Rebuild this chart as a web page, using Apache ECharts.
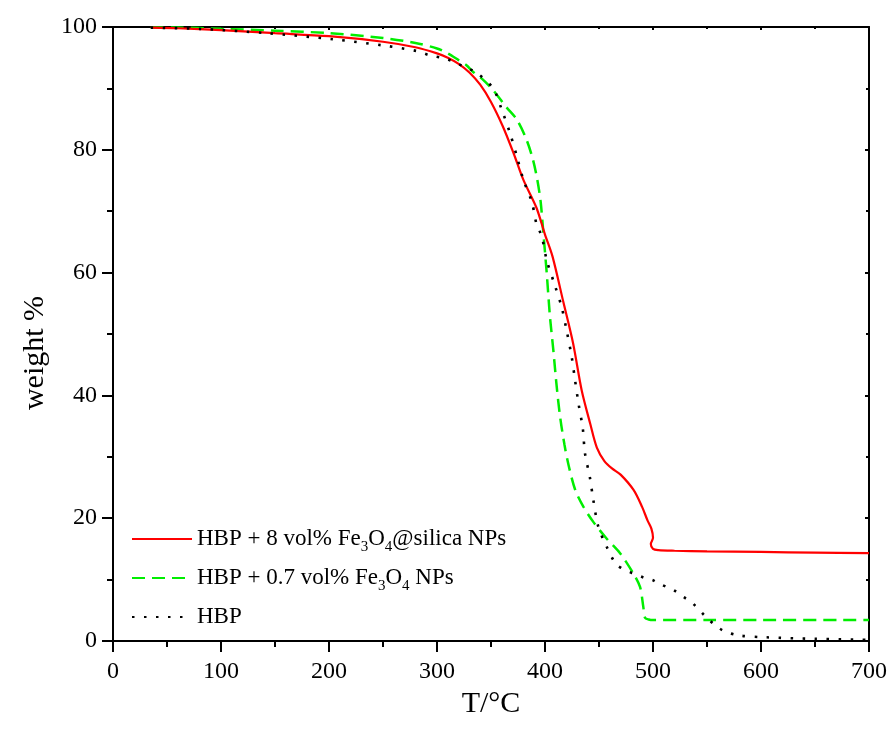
<!DOCTYPE html>
<html>
<head>
<meta charset="utf-8">
<script src="https://cdn.jsdelivr.net/npm/echarts@6/dist/echarts.min.js"></script>
<style>html,body{margin:0;padding:0;background:#fff}#c{width:891px;height:733px}</style>
</head>
<body>
<div id="c"></div>
<script>
// Temperature (°C) and weight (%)
var redT = [35, 60, 100, 150, 200, 250, 280, 300, 310, 320, 330, 340, 350, 361, 371, 380, 392, 400, 407, 417, 426, 434, 442, 448, 455, 462, 470, 482, 490, 495, 498.5, 500, 498, 500, 505, 520, 550, 600, 650, 700];
var redW = [99.9, 99.8, 99.5, 99.0, 98.5, 97.6, 96.7, 95.7, 95.0, 94.0, 92.6, 90.6, 87.8, 83.8, 79.4, 75.1, 70.6, 66.2, 62.6, 55.2, 48.5, 40.8, 35.3, 31.5, 29.3, 28.1, 27.1, 24.6, 21.8, 19.6, 18.3, 16.8, 15.8, 15.0, 14.8, 14.7, 14.6, 14.5, 14.4, 14.3];

var greenT = [35, 60, 100, 150, 200, 250, 280, 300, 310, 320, 327, 334, 342, 352, 364, 374, 383, 389, 393, 396, 398.5, 401.6, 404.6, 407.7, 410.8, 414, 418, 422, 428, 435.5, 444.7, 457, 469.5, 481.8, 488, 491, 492.6, 496, 500, 550, 600, 700];
var greenW = [99.9, 99.9, 99.7, 99.4, 99.0, 98.2, 97.4, 96.5, 95.7, 94.6, 93.8, 92.6, 91.5, 89.7, 87.0, 84.9, 81.6, 78.3, 75.0, 71.5, 66.4, 59.9, 52.8, 47.4, 41.5, 36.5, 32.0, 28.5, 24.6, 21.9, 19.4, 16.7, 14.3, 11.0, 8.8, 5.6, 3.8, 3.5, 3.4, 3.4, 3.4, 3.4];

var blackT = [35, 80, 142, 204, 250, 281, 293, 309, 318, 327, 337, 352, 360, 367.6, 374, 380, 388, 392, 397, 401.6, 409, 415.4, 420, 424.7, 427.8, 431, 435, 437, 441.7, 444.7, 449.4, 457, 466, 476, 482, 492, 500, 505, 519, 528, 537, 548, 556, 565, 580, 605, 650, 700];
var blackW = [99.9, 99.7, 99.0, 98.0, 97.0, 96.1, 95.4, 94.8, 94.1, 93.4, 92.5, 90.0, 86.5, 82.7, 78.9, 75.1, 71.4, 68.0, 65.9, 62.0, 58.0, 54.4, 50.6, 46.3, 42.5, 38.7, 34.6, 30.6, 26.5, 23.0, 18.6, 15.4, 12.5, 11.4, 11.0, 10.3, 9.9, 9.4, 8.3, 7.2, 6.1, 4.1, 2.8, 1.7, 0.9, 0.6, 0.35, 0.2];

var seriesNames = ['HBP + 8 vol% Fe3O4@silica NPs', 'HBP + 0.7 vol% Fe3O4 NPs', 'HBP'];
var xTicks = [0, 100, 200, 300, 400, 500, 600, 700];
var yTicks = [0, 20, 40, 60, 80, 100];

function zip(a, b) { return a.map(function (v, i) { return [v, b[i]]; }); }

var FONT = '"Liberation Serif", "Times New Roman", serif';
var chart = echarts.init(document.getElementById('c'), null, {renderer: 'canvas'});

var legendRich = {
  n: {fontFamily: FONT, fontSize: 23, color: '#000', lineHeight: 26},
  s: {fontFamily: FONT, fontSize: 15, color: '#000', lineHeight: 15, padding: [17, 0, 0, 0]}
};
function legendFmt(name) {
  if (name === seriesNames[0]) return '{n|HBP + 8 vol% Fe}{s|3}{n|O}{s|4}{n|@silica NPs}';
  if (name === seriesNames[1]) return '{n|HBP + 0.7 vol% Fe}{s|3}{n|O}{s|4}{n| NPs}';
  return '{n|' + name + '}{s| }';
}

var axisCommon = {
  type: 'value',
  axisLine: {show: true, onZero: false, lineStyle: {color: '#000', width: 2}},
  splitLine: {show: false}
};

chart.setOption({
  backgroundColor: '#fff',
  animation: false,
  grid: {left: 113, right: 22, top: 27, bottom: 92, containLabel: false},
  legend: {
    orient: 'vertical', left: 131, top: 523, padding: 0,
    itemWidth: 60, itemHeight: 14, itemGap: 7,
    data: seriesNames,
    formatter: legendFmt,
    itemStyle: {opacity: 0},
    textStyle: {rich: legendRich, fontFamily: FONT, fontSize: 23, color: '#000'}
  },
  xAxis: [
    Object.assign({}, axisCommon, {
      position: 'bottom', min: 0, max: 700, interval: 100,
      name: 'T/°C', nameLocation: 'middle', nameGap: 34,
      nameTextStyle: {fontFamily: FONT, fontSize: 30, color: '#000'},
      axisTick: {show: true, inside: false, length: 11, lineStyle: {color: '#000', width: 2}},
      minorTick: {show: true, splitNumber: 2, length: 6, lineStyle: {color: '#000', width: 2}},
      axisLabel: {show: true, margin: 19, fontFamily: FONT, fontSize: 24, color: '#000',
        formatter: function (v) { return xTicks.indexOf(v) >= 0 ? String(v) : ''; }}
    }),
    Object.assign({}, axisCommon, {
      position: 'top', min: 0, max: 700, interval: 100,
      axisTick: {show: true, inside: true, length: 3, lineStyle: {color: '#000', width: 2}},
      minorTick: {show: true, splitNumber: 2, length: 2, lineStyle: {color: '#000', width: 2}},
      axisLabel: {show: false}
    })
  ],
  yAxis: [
    Object.assign({}, axisCommon, {
      position: 'left', min: 0, max: 100, interval: 20,
      name: 'weight %', nameLocation: 'middle', nameGap: 62, nameRotate: 90,
      nameTextStyle: {fontFamily: FONT, fontSize: 30, color: '#000', padding: [0, 38, 0, 0]},
      axisTick: {show: true, inside: false, length: 11, lineStyle: {color: '#000', width: 2}},
      minorTick: {show: true, splitNumber: 2, length: 6, lineStyle: {color: '#000', width: 2}},
      axisLabel: {show: true, margin: 16, fontFamily: FONT, fontSize: 24, color: '#000',
        formatter: function (v) { return yTicks.indexOf(v) >= 0 ? String(v) : ''; }}
    }),
    Object.assign({}, axisCommon, {
      position: 'right', min: 0, max: 100, interval: 20,
      axisTick: {show: true, inside: true, length: 4, lineStyle: {color: '#000', width: 2}},
      minorTick: {show: true, splitNumber: 2, length: 3, lineStyle: {color: '#000', width: 2}},
      axisLabel: {show: false}
    })
  ],
  series: [
    {name: seriesNames[0], type: 'line', data: zip(redT, redW), showSymbol: false, symbol: 'none',
      smooth: 0.3, color: '#ff0000', lineStyle: {color: '#ff0000', width: 2.2, type: 'solid'}, z: 4},
    {name: seriesNames[1], type: 'line', data: zip(greenT, greenW), showSymbol: false, symbol: 'none',
      smooth: 0.3, color: '#00ee00', lineStyle: {color: '#00ee00', width: 2.5, type: [13, 7]}, z: 3},
    {name: seriesNames[2], type: 'line', data: zip(blackT, blackW), showSymbol: false, symbol: 'none',
      smooth: 0.3, color: '#000', lineStyle: {color: '#000', width: 2.6, type: [2.5, 9.5], cap: 'butt'}, z: 5}
  ]
});
</script>
</body>
</html>
